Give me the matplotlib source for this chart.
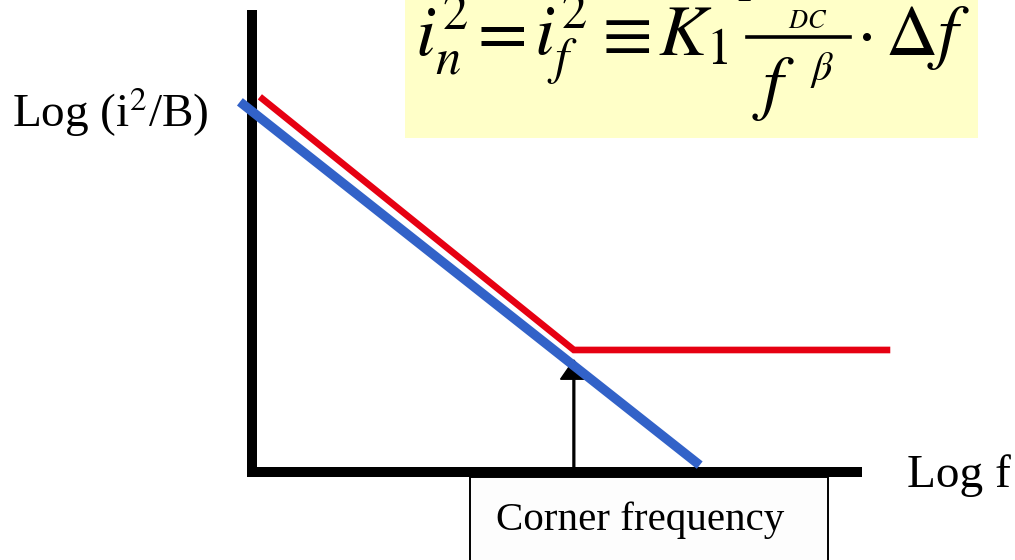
from matplotlib import pyplot as plt
from matplotlib.patches import Rectangle
from matplotlib.lines import Line2D

plt.rcParams['font.family'] = ['Liberation Serif', 'DejaVu Serif']
plt.rcParams['mathtext.fontset'] = 'stix'

# knee of the measured spectrum (decades of frequency)
cornerLogF = 5.32

# measured noise: 1/f slope that flattens out above the corner
measuredLogF = [0.13, cornerLogF, 10.55]
measuredLogNoise = [8.21, 2.67, 2.67]

# pure 1/f asymptote
flickerLogF = [-0.20, 7.40]
flickerLogNoise = [8.10, 0.15]

# how far up the corner marker reaches
cornerArrowTop = 2.45

W, H = 1015.0, 560.0
fig = plt.figure(figsize=(W / 100, H / 100), dpi=100)
fig.patch.set_facecolor('white')

def px(x, y):
  # pixel position (from the top-left corner) -> figure fraction
  return x / W, (H - y) / H

# axes sit exactly on the two thick black axis lines
ax = fig.add_axes([252 / W, (H - 472) / H, (857 - 252) / W, (472 - 15) / H])
ax.set_xlim(0, 10)
ax.set_ylim(0, 10)
ax.set_xticks([])
ax.set_yticks([])
ax.patch.set_visible(False)
for side in ('top', 'right'):
  ax.spines[side].set_visible(False)
for side in ('left', 'bottom'):
  ax.spines[side].set_linewidth(7.2)
  ax.spines[side].set_color('black')

ax.plot(measuredLogF, measuredLogNoise, color='#E60012', lw=4.8,
        solid_capstyle='butt', solid_joinstyle='miter', clip_on=False, zorder=3)

# corner frequency marker
ax.arrow(cornerLogF, 0, 0, cornerArrowTop, width=0.03, head_width=0.44,
         head_length=0.42, length_includes_head=True, color='black',
         clip_on=False, zorder=2)

ax.plot(flickerLogF, flickerLogNoise, color='#3262C8', lw=6.8,
        solid_capstyle='butt', clip_on=False, zorder=4)

# label box hanging under the frequency axis
ax.add_patch(Rectangle((3.60, -3.0), 9.52 - 3.60, 3.0 - 0.11, facecolor='#FDFDFD',
                       edgecolor='black', lw=1.4, clip_on=False, zorder=1))
ax.text(6.41, -1.27, 'Corner frequency', fontsize=29.5, ha='center', va='baseline',
        zorder=5, clip_on=False)

fig.text(*px(907, 487), 'Log f', fontsize=34, ha='left', va='baseline')
fig.text(*px(12, 127), r'Log (i$^2$/B)', fontsize=34, ha='left', va='baseline')

# flicker noise formula on its yellow card
x0, y0 = px(405, 138)
fig.add_artist(Rectangle((x0, y0), (978 - 405) / W, 1 - y0 + 0.02,
                         transform=fig.transFigure, facecolor='#FFFFC8',
                         edgecolor='none', zorder=0))

eqSize = 52
baseline = 55
mathPieces = [(415, r'$i_n^2$'), (534, r'$i_f^2$'), (658, r'$K_1$'),
              (885, r'$\Delta f$')]
for x, s in mathPieces:
  fig.text(*px(x, baseline), s, fontsize=eqSize, ha='left', va='baseline', zorder=1)
# operators as plain STIX glyphs so they keep tight spacing
for x, s in [(502, '='), (627, '\u2261'), (867, '\u00b7')]:
  fig.text(*px(x, baseline), s, fontsize=eqSize, family='STIXGeneral',
           ha='center', va='baseline', zorder=1)

# the fraction: numerator runs off the top of the card
fig.add_artist(Line2D([747 / W, 850 / W], [(H - 37) / H] * 2, color='black',
                      lw=2.6, transform=fig.transFigure, zorder=1))
fig.text(*px(738, 2), r'$I^{\,\alpha}$', fontsize=36, ha='left', va='baseline', zorder=1)
fig.text(*px(788, 28), r'$DC$', fontsize=19, ha='left', va='baseline', zorder=1)
fig.text(*px(752, 106), r'$f$', fontsize=eqSize, ha='left', va='baseline', zorder=1)
fig.text(*px(810, 80), r'$\beta$', fontsize=29, ha='left', va='baseline', zorder=1)

plt.savefig('out.png', dpi=100)
